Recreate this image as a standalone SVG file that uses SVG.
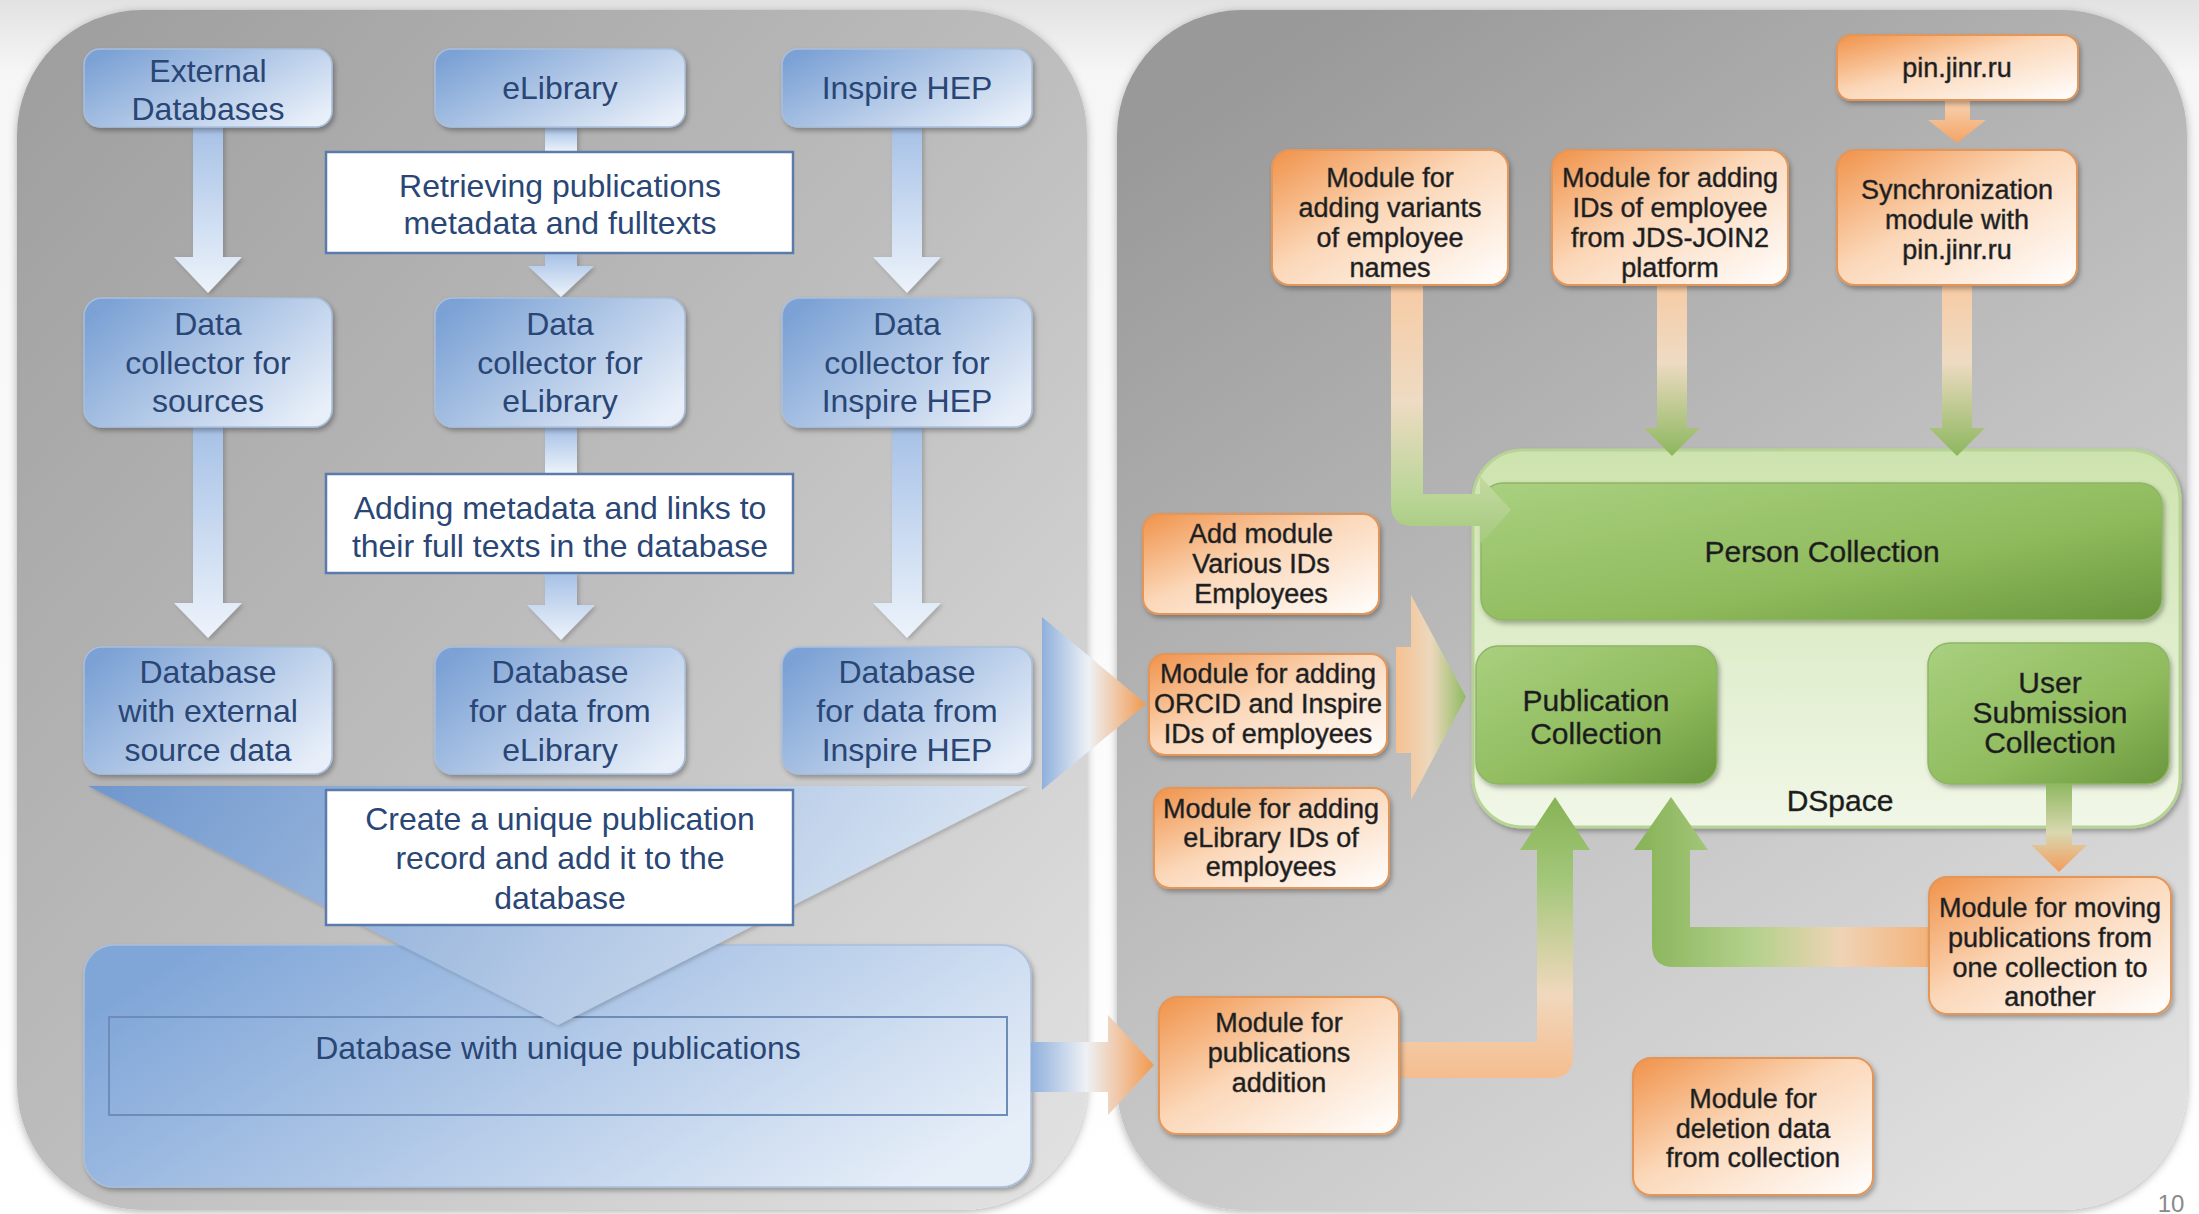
<svg xmlns="http://www.w3.org/2000/svg" width="2199" height="1214" viewBox="0 0 2199 1214">
<defs>
<style>
.t{font-family:"Liberation Sans",Arial,sans-serif;text-anchor:middle}
.tb{font-size:32px;fill:#2a4675}
.to{font-size:27px;fill:#1a1a1a;stroke:#3a3a3a;stroke-width:0.5}
.tg{font-size:30px;fill:#1a1a1a;stroke:#333;stroke-width:0.4}
.nb{fill:url(#gBlue);stroke:#a9bfdc;stroke-width:1.5;filter:url(#sh)}
.nw{fill:#ffffff;stroke:#5b7cab;stroke-width:2.5}
.no{fill:url(#gOrange);stroke:#e39659;stroke-width:2;filter:url(#sh)}
.ng{fill:url(#gGreen);stroke:#8fb566;stroke-width:1.5;filter:url(#sh)}
.ab{fill:url(#gArrowBlue);filter:url(#sh2)}
</style>
<filter id="sh" x="-10%" y="-10%" width="125%" height="125%"><feDropShadow dx="2" dy="3" stdDeviation="2.5" flood-color="#000" flood-opacity="0.3"/></filter>
<filter id="sh2" x="-20%" y="-10%" width="140%" height="130%"><feDropShadow dx="2" dy="2" stdDeviation="2" flood-color="#000" flood-opacity="0.2"/></filter>
<filter id="psh" x="-5%" y="-5%" width="110%" height="110%"><feDropShadow dx="0" dy="2" stdDeviation="4" flood-color="#000" flood-opacity="0.3"/></filter>
<linearGradient id="gBg" x1="0" y1="0" x2="0" y2="1"><stop offset="0" stop-color="#e2e2e2"/><stop offset="0.06" stop-color="#f6f6f6"/><stop offset="1" stop-color="#ffffff"/></linearGradient>
<linearGradient id="gPanelL" x1="0" y1="0" x2="1" y2="1"><stop offset="0" stop-color="#9d9d9d"/><stop offset="0.5" stop-color="#bdbdbd"/><stop offset="1" stop-color="#e3e3e3"/></linearGradient>
<linearGradient id="gPanelR" x1="0.2" y1="0" x2="0.8" y2="1"><stop offset="0" stop-color="#999999"/><stop offset="0.55" stop-color="#c2c2c2"/><stop offset="1" stop-color="#e0e0e0"/></linearGradient>
<linearGradient id="gBlue" x1="0" y1="0.2" x2="1" y2="0.8"><stop offset="0" stop-color="#7ca2d5"/><stop offset="1" stop-color="#e8eff9"/></linearGradient>
<linearGradient id="gBlueBig" x1="0" y1="0.3" x2="1" y2="0.7"><stop offset="0" stop-color="#80a6d8"/><stop offset="1" stop-color="#e6eef8"/></linearGradient>
<linearGradient id="gFunnel" x1="0" y1="0" x2="1" y2="0.2"><stop offset="0" stop-color="#6f97cd"/><stop offset="1" stop-color="#dbe6f4"/></linearGradient>
<linearGradient id="gArrowBlue" x1="0" y1="0" x2="0" y2="1"><stop offset="0" stop-color="#a6c1e6"/><stop offset="1" stop-color="#edf3fb"/></linearGradient>
<linearGradient id="gBO" x1="0" y1="0" x2="1" y2="0"><stop offset="0" stop-color="#8fb0dc"/><stop offset="0.45" stop-color="#eef1f5"/><stop offset="1" stop-color="#f2994f"/></linearGradient>
<linearGradient id="gOrange" x1="0" y1="0" x2="1" y2="1"><stop offset="0" stop-color="#f09249"/><stop offset="0.45" stop-color="#fbd7b8"/><stop offset="1" stop-color="#ffffff"/></linearGradient>
<linearGradient id="gGreen" x1="0" y1="0" x2="1" y2="1"><stop offset="0" stop-color="#a9d07f"/><stop offset="0.6" stop-color="#8fbb5d"/><stop offset="1" stop-color="#6a973d"/></linearGradient>
<linearGradient id="gDSpace" x1="0" y1="0" x2="0" y2="1"><stop offset="0" stop-color="#cde3ae"/><stop offset="1" stop-color="#f1f7e8"/></linearGradient>
<linearGradient id="gPin" x1="0" y1="0" x2="0" y2="1"><stop offset="0" stop-color="#f8d2b0"/><stop offset="1" stop-color="#f3a465"/></linearGradient>
<linearGradient id="gOGv" x1="0" y1="0" x2="0" y2="1"><stop offset="0" stop-color="#f7cba4"/><stop offset="0.45" stop-color="#eedbc3"/><stop offset="1" stop-color="#8cb75d"/></linearGradient>
<linearGradient id="gOGL" gradientUnits="userSpaceOnUse" x1="0" y1="285" x2="0" y2="544"><stop offset="0" stop-color="#f7cba4"/><stop offset="0.45" stop-color="#eedbc3"/><stop offset="0.8" stop-color="#bcd699"/><stop offset="1" stop-color="#a5c97d"/></linearGradient>
<linearGradient id="gOGh" x1="0" y1="0" x2="1" y2="0"><stop offset="0" stop-color="#f6c192"/><stop offset="0.5" stop-color="#ecd8bd"/><stop offset="1" stop-color="#8fba62"/></linearGradient>
<linearGradient id="gPubAdd" gradientUnits="userSpaceOnUse" x1="0" y1="1078" x2="0" y2="797"><stop offset="0" stop-color="#f5bd8f"/><stop offset="0.3" stop-color="#f0d8bd"/><stop offset="0.7" stop-color="#a4c77a"/><stop offset="1" stop-color="#86b356"/></linearGradient>
<linearGradient id="gMove" gradientUnits="userSpaceOnUse" x1="1930" y1="0" x2="1634" y2="0"><stop offset="0" stop-color="#f4b27a"/><stop offset="0.3" stop-color="#efd3b5"/><stop offset="0.6" stop-color="#b3d18c"/><stop offset="1" stop-color="#86b257"/></linearGradient>
<linearGradient id="gGO" x1="0" y1="0" x2="0" y2="1"><stop offset="0" stop-color="#8fb862"/><stop offset="0.55" stop-color="#d9d8b0"/><stop offset="1" stop-color="#f39c5c"/></linearGradient>
</defs>

<rect x="0" y="0" width="2199" height="1214" fill="url(#gBg)"/>

<g id="panels">
<rect id="panel-left" x="17" y="10" width="1070" height="1200" rx="125" fill="url(#gPanelL)" filter="url(#psh)"/>
<rect id="panel-right" x="1117" y="10" width="1070" height="1200" rx="125" fill="url(#gPanelR)" filter="url(#psh)"/>
</g>

<g id="containers">
<g id="unique-db">
<rect x="84" y="945" width="947" height="242" rx="30" fill="url(#gBlueBig)" stroke="#a9bfdc" stroke-width="1.5" filter="url(#sh)"/>
<rect x="109" y="1017" width="898" height="98" fill="none" stroke="#6d8cb8" stroke-width="2"/>
<text class="t tb" x="558" y="1059">Database with unique publications</text>
</g>
<g id="dspace">
<rect x="1473" y="450" width="707" height="377" rx="50" fill="url(#gDSpace)" stroke="#b7d494" stroke-width="3" filter="url(#sh)"/>
<text class="t tg" x="1840" y="811">DSpace</text>
</g>
<g id="person-collection">
<rect class="ng" x="1481" y="483" width="681" height="137" rx="22"/>
<text class="t tg" x="1822" y="562">Person Collection</text>
</g>
<g id="publication-collection">
<rect class="ng" x="1476" y="646" width="241" height="138" rx="22"/>
<text class="t tg" x="1596" y="711">Publication</text>
<text class="t tg" x="1596" y="744">Collection</text>
</g>
<g id="user-submission-collection">
<rect class="ng" x="1928" y="643" width="241" height="141" rx="22"/>
<text class="t tg" x="2050" y="693">User</text>
<text class="t tg" x="2050" y="723">Submission</text>
<text class="t tg" x="2050" y="753">Collection</text>
</g>
</g>

<g id="connectors">
<path class="ab" d="M193,127 H223 V257 H242 L208,293 L174,257 H193 Z"/>
<path class="ab" d="M193,427 H223 V603 H242 L208,638 L174,603 H193 Z"/>
<path class="ab" d="M892,127 H922 V257 H941 L907,293 L873,257 H892 Z"/>
<path class="ab" d="M892,427 H922 V603 H941 L907,638 L873,603 H892 Z"/>
<path class="ab" d="M545,127 H577 V152 H545 Z"/>
<path class="ab" d="M545,253 H577 V266 H594 L561,297 L528,266 H545 Z"/>
<path class="ab" d="M545,427 H577 V474 H545 Z"/>
<path class="ab" d="M545,573 H577 V605 H595 L561,640 L527,605 H545 Z"/>
<path d="M88,786 L1028,786 L558,1025 Z" fill="url(#gFunnel)" filter="url(#sh2)"/>
<path d="M1042,617 L1146,704 L1042,790 Z" fill="url(#gBO)"/>
<path d="M1031,1042 H1108 V1015 L1154,1065 L1108,1115 V1092 H1031 Z" fill="url(#gBO)"/>
<path d="M1945,101 H1970 V120 H1986 L1957,143 L1928,120 H1945 Z" fill="url(#gPin)"/>
<path d="M1657,285 H1687 V428 H1700 L1672,456 L1644,428 H1657 Z" fill="url(#gOGv)"/>
<path d="M1942,285 H1972 V428 H1985 L1957,456 L1929,428 H1942 Z" fill="url(#gOGv)"/>
<path d="M1391,285 H1423 V494 H1480 V476 L1511,510 L1480,544 V526 H1413 Q1391,526 1391,504 Z" fill="url(#gOGL)"/>
<path d="M1396,647 H1411 V595 L1466,697 L1411,800 V753 H1396 Z" fill="url(#gOGh)"/>
<path d="M1398,1042 H1537 V850 H1520 L1555,797 L1590,850 H1573 V1056 Q1573,1078 1551,1078 H1398 Z" fill="url(#gPubAdd)"/>
<path d="M1930,927 H1690 V850 H1708 L1671,797 L1634,850 H1652 V945 Q1652,967 1674,967 H1930 Z" fill="url(#gMove)"/>
<path d="M2046,784 H2072 V845 H2087 L2059,872 L2031,845 H2046 Z" fill="url(#gGO)"/>
</g>

<g id="external-databases">
<rect class="nb" x="84" y="49" width="248" height="78" rx="16"/>
<text class="t tb" x="208" y="82">External</text>
<text class="t tb" x="208" y="120">Databases</text>
</g>
<g id="elibrary">
<rect class="nb" x="435" y="49" width="250" height="78" rx="16"/>
<text class="t tb" x="560" y="99">eLibrary</text>
</g>
<g id="inspire-hep">
<rect class="nb" x="782" y="49" width="250" height="78" rx="16"/>
<text class="t tb" x="907" y="99">Inspire HEP</text>
</g>
<g id="retrieving">
<rect class="nw" x="326" y="152" width="467" height="101"/>
<text class="t tb" x="560" y="197">Retrieving publications</text>
<text class="t tb" x="560" y="234">metadata and fulltexts</text>
</g>
<g id="collector-sources">
<rect class="nb" x="84" y="298" width="248" height="129" rx="18"/>
<text class="t tb" x="208" y="335">Data</text>
<text class="t tb" x="208" y="374">collector for</text>
<text class="t tb" x="208" y="412">sources</text>
</g>
<g id="collector-elibrary">
<rect class="nb" x="435" y="298" width="250" height="129" rx="18"/>
<text class="t tb" x="560" y="335">Data</text>
<text class="t tb" x="560" y="374">collector for</text>
<text class="t tb" x="560" y="412">eLibrary</text>
</g>
<g id="collector-inspire">
<rect class="nb" x="782" y="298" width="250" height="129" rx="18"/>
<text class="t tb" x="907" y="335">Data</text>
<text class="t tb" x="907" y="374">collector for</text>
<text class="t tb" x="907" y="412">Inspire HEP</text>
</g>
<g id="adding-metadata">
<rect class="nw" x="326" y="474" width="467" height="99"/>
<text class="t tb" x="560" y="519">Adding metadata and links to</text>
<text class="t tb" x="560" y="557">their full texts in the database</text>
</g>
<g id="db-external">
<rect class="nb" x="84" y="647" width="248" height="127" rx="18"/>
<text class="t tb" x="208" y="683">Database</text>
<text class="t tb" x="208" y="722">with external</text>
<text class="t tb" x="208" y="761">source data</text>
</g>
<g id="db-elibrary">
<rect class="nb" x="435" y="647" width="250" height="127" rx="18"/>
<text class="t tb" x="560" y="683">Database</text>
<text class="t tb" x="560" y="722">for data from</text>
<text class="t tb" x="560" y="761">eLibrary</text>
</g>
<g id="db-inspire">
<rect class="nb" x="782" y="647" width="250" height="127" rx="18"/>
<text class="t tb" x="907" y="683">Database</text>
<text class="t tb" x="907" y="722">for data from</text>
<text class="t tb" x="907" y="761">Inspire HEP</text>
</g>
<g id="create-unique">
<rect class="nw" x="326" y="790" width="467" height="135"/>
<text class="t tb" x="560" y="830">Create a unique publication</text>
<text class="t tb" x="560" y="869">record and add it to the</text>
<text class="t tb" x="560" y="909">database</text>
</g>

<g id="pin-jinr">
<rect class="no" x="1837" y="35" width="241" height="65" rx="14"/>
<text class="t to" x="1957" y="77">pin.jinr.ru</text>
</g>
<g id="module-variants">
<rect class="no" x="1272" y="150" width="236" height="135" rx="18"/>
<text class="t to" x="1390" y="187">Module for</text>
<text class="t to" x="1390" y="217">adding variants</text>
<text class="t to" x="1390" y="247">of employee</text>
<text class="t to" x="1390" y="277">names</text>
</g>
<g id="module-jds">
<rect class="no" x="1552" y="150" width="236" height="135" rx="18"/>
<text class="t to" x="1670" y="187">Module for adding</text>
<text class="t to" x="1670" y="217">IDs of employee</text>
<text class="t to" x="1670" y="247">from JDS-JOIN2</text>
<text class="t to" x="1670" y="277">platform</text>
</g>
<g id="module-sync">
<rect class="no" x="1837" y="150" width="240" height="135" rx="18"/>
<text class="t to" x="1957" y="199">Synchronization</text>
<text class="t to" x="1957" y="229">module with</text>
<text class="t to" x="1957" y="259">pin.jinr.ru</text>
</g>
<g id="module-various-ids">
<rect class="no" x="1143" y="514" width="236" height="100" rx="16"/>
<text class="t to" x="1261" y="543">Add module</text>
<text class="t to" x="1261" y="573">Various IDs</text>
<text class="t to" x="1261" y="603">Employees</text>
</g>
<g id="module-orcid">
<rect class="no" x="1149" y="654" width="238" height="101" rx="16"/>
<text class="t to" x="1268" y="683">Module for adding</text>
<text class="t to" x="1268" y="713">ORCID and Inspire</text>
<text class="t to" x="1268" y="743">IDs of employees</text>
</g>
<g id="module-elibrary-ids">
<rect class="no" x="1154" y="788" width="235" height="100" rx="16"/>
<text class="t to" x="1271" y="818">Module for adding</text>
<text class="t to" x="1271" y="847">eLibrary IDs of</text>
<text class="t to" x="1271" y="876">employees</text>
</g>
<g id="module-pub-addition">
<rect class="no" x="1159" y="997" width="240" height="137" rx="18"/>
<text class="t to" x="1279" y="1032">Module for</text>
<text class="t to" x="1279" y="1062">publications</text>
<text class="t to" x="1279" y="1092">addition</text>
</g>
<g id="module-moving">
<rect class="no" x="1929" y="877" width="242" height="137" rx="18"/>
<text class="t to" x="2050" y="917">Module for moving</text>
<text class="t to" x="2050" y="947">publications from</text>
<text class="t to" x="2050" y="977">one collection to</text>
<text class="t to" x="2050" y="1006">another</text>
</g>
<g id="module-deletion">
<rect class="no" x="1633" y="1058" width="240" height="137" rx="18"/>
<text class="t to" x="1753" y="1108">Module for</text>
<text class="t to" x="1753" y="1138">deletion data</text>
<text class="t to" x="1753" y="1167">from collection</text>
</g>

<text class="t" x="2171" y="1212" font-size="24" fill="#8a8a8a">10</text>
</svg>
